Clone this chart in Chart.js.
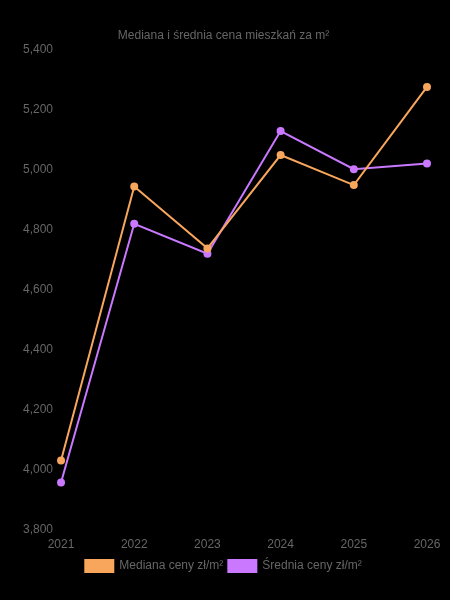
<!DOCTYPE html>
<html>
<head>
<meta charset="utf-8">
<script src="https://cdn.jsdelivr.net/npm/chart.js@4"></script>
<style>
  html, body { margin: 0; padding: 0; background: #000; }
  #wrap { width: 450px; height: 600px; }
</style>
</head>
<body>
<div id="wrap"><canvas id="lineChart" width="450" height="600"></canvas></div>
<script>
// Dane
const years = ["2021", "2022", "2023", "2024", "2025", "2026"];
const medianPrices = [4030, 4943, 4737, 5048, 4948, 5275];
const averagePrices = [3957, 4819, 4719, 5128, 5001, 5020];
const yTicks = [3800, 5400, 200]; // min, max, krok

const orange = "#f7a65c";
const purple = "#c978ff";

new Chart(document.getElementById("lineChart"), {
  type: "line",
  data: {
    labels: years,
    datasets: [
      {
        label: "Mediana ceny zł/m²",
        data: medianPrices,
        borderColor: orange,
        backgroundColor: orange,
        borderWidth: 2,
        pointRadius: 3,
        tension: 0,
      },
      {
        label: "Średnia ceny zł/m²",
        data: averagePrices,
        borderColor: purple,
        backgroundColor: purple,
        borderWidth: 2,
        pointRadius: 3,
        tension: 0,
      },
    ],
  },
  options: {
    responsive: false,
    animation: false,
    layout: {
      padding: { top: 18, bottom: 18, left: 20, right: 23 },
    },
    plugins: {
      title: {
        display: true,
        text: "Mediana i średnia cena mieszkań za m²",
        color: "#666",
        font: { size: 12, weight: "normal" },
        padding: { top: 10, bottom: 7 },
      },
      legend: {
        position: "bottom",
        labels: {
          boxWidth: 28,
          padding: 5,
          color: "#666",
          font: { size: 12 },
        },
      },
    },
    scales: {
      y: {
        min: yTicks[0],
        max: yTicks[1],
        ticks: { stepSize: yTicks[2], color: "#666" },
        grid: { display: false, tickLength: 5 },
      },
      x: {
        ticks: { color: "#666" },
        grid: { display: false, tickLength: 5 },
      },
    },
  },
});
</script>
</body>
</html>
